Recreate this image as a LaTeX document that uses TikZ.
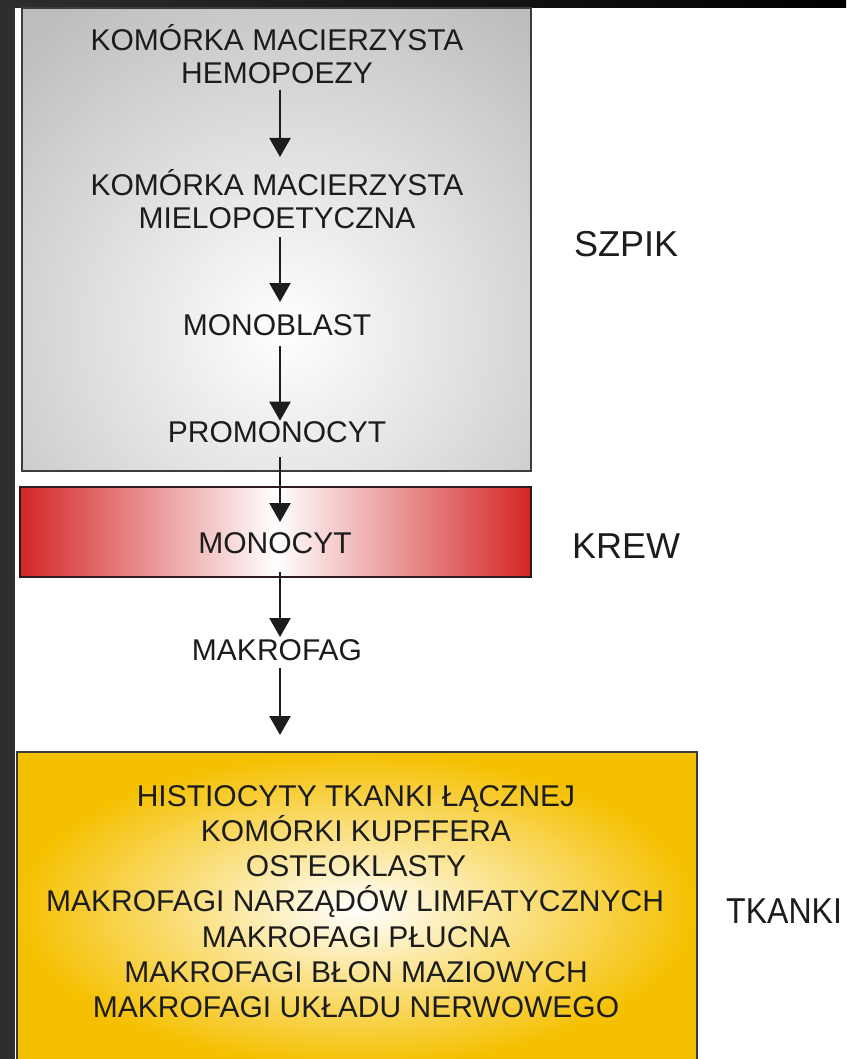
\documentclass[tikz,border=0pt]{standalone}
\usepackage{fontspec}
\setmainfont{Liberation Sans}
\usetikzlibrary{arrows.meta}
\definecolor{txt}{HTML}{1C1C1C}
\definecolor{stripgray}{HTML}{2E2E2E}
\definecolor{boxgray}{HTML}{BDBDBD}
\definecolor{bloodred}{HTML}{D42626}
\definecolor{gold}{HTML}{F5C000}
\definecolor{edge}{HTML}{3C3C3C}
\definecolor{rededge}{HTML}{2E1A1A}
\begin{document}
\begin{tikzpicture}[x=1pt,y=-1pt,
  lbl/.style={inner sep=0pt, outer sep=0pt, text height=22pt, text depth=0pt, anchor=base, text=txt, font=\fontsize{30}{36}\selectfont},
  side/.style={inner sep=0pt, anchor=base west, text=txt, font=\fontsize{36}{42}\selectfont},
  flow/.style={line width=2.2pt, draw=txt, -{Triangle[width=21pt,length=19pt]}},
  panel/.style={rectangle, inner sep=0pt, outer sep=0pt, line width=2.5pt}]
\useasboundingbox (0,0) rectangle (846,1059);
\fill[white] (0,0) rectangle (846,1059);
% frame strips
\shade[left color=stripgray, right color=black] (0,0) rectangle (846,7.5);
\fill[stripgray] (0,0) rectangle (14.5,1059);

% SZPIK panel
\node[panel, minimum width=509pt, minimum height=463pt, fill=boxgray] (szpik) at (276.5,239.5) {};
\begin{scope}
  \clip (szpik.south west) rectangle (szpik.north east);
  \shade[inner color=white, outer color=boxgray] (285,330) circle (390);
\end{scope}
\draw[edge, line width=2.5pt] (szpik.south west) rectangle (szpik.north east);

% KREW panel
\node[panel, minimum width=511pt, minimum height=90pt, draw=rededge, line width=2pt,
      left color=bloodred, right color=bloodred, middle color=white] (krew) at (275.5,532) {};

% TKANKI panel
\node[panel, minimum width=680pt, minimum height=314pt, draw=edge, line width=2.2pt,
      inner color=white, outer color=gold] (tk) at (357,909) {};

% texts
\node[lbl] (k1) at (277,50.7) {KOMÓRKA MACIERZYSTA};
\node[lbl] (hemo) at (277,83.7) {HEMOPOEZY};
\node[lbl] (k2) at (277,195.7) {KOMÓRKA MACIERZYSTA};
\node[lbl] (mielo) at (277,228.7) {MIELOPOETYCZNA};
\node[lbl] (mblast) at (277,335.7) {MONOBLAST};
\node[lbl] (promono) at (277,442.7) {PROMONOCYT};
\node[lbl] (mcyt) at (275,553.7) {MONOCYT};
\node[lbl] (makro) at (277,660.7) {MAKROFAG};

\node[lbl] (t1) at (356,806) {HISTIOCYTY TKANKI ŁĄCZNEJ};
\node[lbl] (t2) at (356,841.3) {KOMÓRKI KUPFFERA};
\node[lbl] (t3) at (356,876.6) {OSTEOKLASTY};
\node[lbl] (t4) at (355,911.9) {MAKROFAGI NARZĄDÓW LIMFATYCZNYCH};
\node[lbl] (t5) at (356,947.2) {MAKROFAGI PŁUCNA};
\node[lbl] (t6) at (356,982.5) {MAKROFAGI BŁON MAZIOWYCH};
\node[lbl] (t7) at (356,1017.8) {MAKROFAGI UKŁADU NERWOWEGO};

\node[side] (lszpik) at (574,256) {SZPIK};
\node[side] (lkrew) at (572,558) {KREW};
\node[side] (ltk) at (726,923) {\scalebox{0.89}[1]{TKANKI}};

% connectors
\coordinate (col) at (280,0);
\draw[flow, shorten <=6pt, shorten >=16.7pt] (hemo.south -| col) -- (k2.north -| col);
\draw[flow, shorten <=8.3pt, shorten >=11.7pt] (mielo.south -| col) -- (mblast.north -| col);
\draw[flow, shorten <=10.3pt, shorten >=0pt] (mblast.south -| col) -- (promono.north -| col);
\draw[flow, shorten <=14.3pt, shorten >=9.7pt] (promono.south -| col) -- (mcyt.north -| col);
\draw[flow, shorten <=18.3pt, shorten >=1.7pt] (mcyt.south -| col) -- (makro.north -| col);
\draw[flow, shorten <=7.3pt, shorten >=17pt] (makro.south -| col) -- (tk.north -| col);
\end{tikzpicture}
\end{document}
